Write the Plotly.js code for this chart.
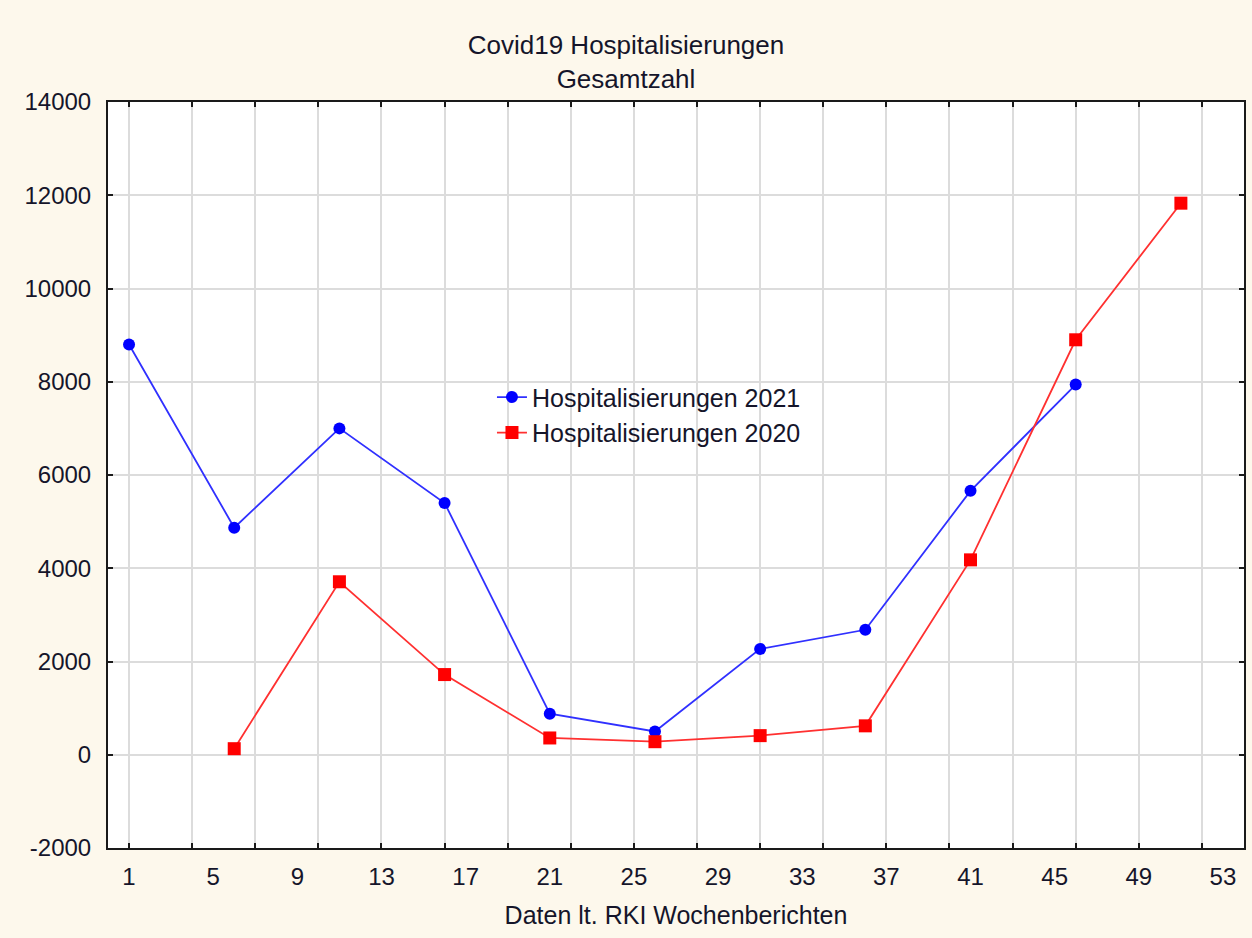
<!DOCTYPE html>
<html>
<head>
<meta charset="utf-8">
<script src="https://cdn.plot.ly/plotly-3.0.1.min.js"></script>
<style>html,body{margin:0;padding:0;background:#fdf8ec;}</style>
</head>
<body>
<div id="chart" style="width:1252px;height:938px;"></div>
<script>
// Data
const weeks2021 = [1, 6, 11, 16, 21, 26, 31, 36, 41, 46];
const hosp2021  = [8800, 4870, 7000, 5400, 880, 500, 2270, 2680, 5660, 7940];
const weeks2020 = [6, 11, 16, 21, 26, 31, 36, 41, 46, 51];
const hosp2020  = [130, 3710, 1720, 360, 280, 410, 620, 4180, 8900, 11830];

const xLabelVals = [1, 5, 9, 13, 17, 21, 25, 29, 33, 37, 41, 45, 49, 53];
const xLabelText = ["1","5","9","13","17","21","25","29","33","37","41","45","49","53"];
const xGridVals  = [1, 4, 7, 10, 13, 16, 19, 22, 25, 28, 31, 34, 37, 40, 43, 46, 49, 52];
const yTickVals  = [-2000, 0, 2000, 4000, 6000, 8000, 10000, 12000, 14000];
const yTickText  = ["-2000","0","2000","4000","6000","8000","10000","12000","14000"];

const titleText = "Covid19 Hospitalisierungen<br>Gesamtzahl";
const xTitle = "Daten lt. RKI Wochenberichten";
const name2021 = "Hospitalisierungen 2021";
const name2020 = "Hospitalisierungen 2020";

const FONT = "Liberation Sans, Arial, sans-serif";
const TXT = "#15152a";

// 2021 on the labelled axis, 2020 on the overlaid grid axis (same range)
const traces = [
  {x: weeks2021, y: hosp2021, name: name2021, type: 'scatter', mode: 'lines+markers',
   xaxis: 'x', yaxis: 'y',
   line: {color: '#3030ff', width: 1.8}, marker: {color: '#0000ff', symbol: 'circle', size: 12}},
  {x: weeks2020, y: hosp2020, name: name2020, type: 'scatter', mode: 'lines+markers',
   xaxis: 'x2', yaxis: 'y',
   line: {color: '#ff3030', width: 1.8}, marker: {color: '#ff0000', symbol: 'square', size: 13}}
];

const layout = {
  width: 1252, height: 938,
  paper_bgcolor: '#fdf8ec', plot_bgcolor: '#ffffff',
  margin: {l: 108, r: 8, t: 102, b: 90},
  font: {family: FONT, color: TXT, size: 24},
  title: {text: titleText, font: {family: FONT, size: 26, color: TXT},
          x: 0.5, xanchor: 'center', y: 0.942, yanchor: 'top', yref: 'container'},
  showlegend: true,
  legend: {x: 0.338, y: 0.635, xanchor: 'left', yanchor: 'top',
           bgcolor: 'rgba(0,0,0,0)', borderwidth: 0,
           font: {family: FONT, size: 25, color: TXT},
           tracegroupgap: 0, itemwidth: 30},
  xaxis: {range: [0, 54], tickmode: 'array', tickvals: xLabelVals, ticktext: xLabelText,
          showgrid: false, zeroline: false, ticks: '', showline: true, mirror: true,
          linecolor: '#1a1a1a', linewidth: 2, ticklabelstandoff: 6,
          tickfont: {family: FONT, size: 24, color: TXT},
          title: {text: xTitle, font: {family: FONT, size: 25, color: TXT}, standoff: 18},
          fixedrange: true},
  xaxis2: {range: [0, 54], overlaying: 'x', anchor: 'y', side: 'bottom',
           tickmode: 'array', tickvals: xGridVals, showticklabels: false,
           showgrid: true, gridcolor: '#dcdcdc', gridwidth: 2, zeroline: false,
           ticks: 'inside', ticklen: 5, tickwidth: 2, tickcolor: '#1a1a1a',
           showline: false, mirror: 'ticks', fixedrange: true},
  yaxis: {range: [-2000, 14000], tickmode: 'array', tickvals: yTickVals, ticktext: yTickText,
          showgrid: true, gridcolor: '#dcdcdc', gridwidth: 2, zeroline: false,
          ticks: 'inside', ticklen: 5, tickwidth: 2, tickcolor: '#1a1a1a',
          showline: true, mirror: 'ticks', linecolor: '#1a1a1a', linewidth: 2,
          ticklabelstandoff: 10,
          tickfont: {family: FONT, size: 24, color: TXT}, fixedrange: true}
};

Plotly.newPlot('chart', traces, layout, {displayModeBar: false, staticPlot: true});
</script>
</body>
</html>
